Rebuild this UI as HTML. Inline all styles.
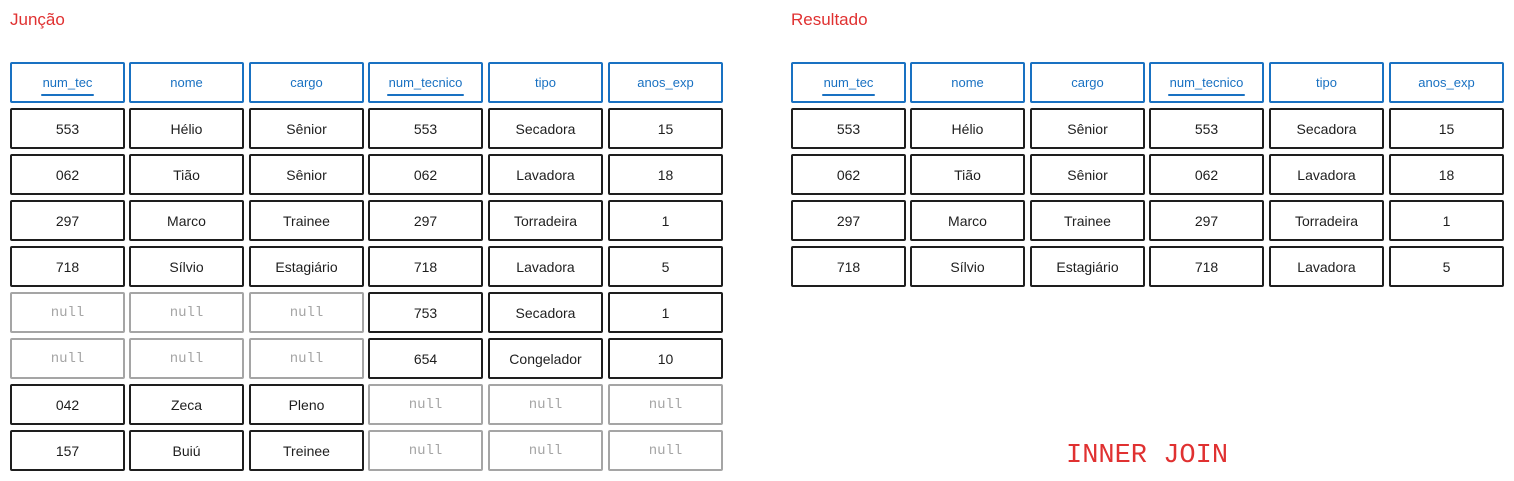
<!DOCTYPE html>
<html><head><meta charset="utf-8"><style>
html,body{margin:0;padding:0;background:#fff;width:1514px;height:481px;overflow:hidden;position:relative;font-family:"Liberation Sans","DejaVu Sans",sans-serif}
.c{position:absolute;box-sizing:border-box;width:115px;height:41px;border:2px solid #1e1e1e;border-radius:2px;display:flex;align-items:center;justify-content:center;font-size:14px;color:#1e1e1e}
.h{border-color:#1971c2;color:#1971c2;font-size:13px}
.n{border-color:#a5a5a5;color:#a5a5a5;font-family:"Liberation Mono",monospace;font-size:14px}
.u{position:relative}
.u::after{content:"";position:absolute;left:-2px;right:-2px;bottom:-6px;height:2px;background:#1971c2;border-radius:1px}
.t{position:absolute;color:#e03131;font-size:17px}
.ij{position:absolute;left:1066px;top:439px;color:#e03131;font-family:"Liberation Mono",monospace;font-size:27px;line-height:34px}
</style></head><body>
<div class="t" style="left:10px;top:10px">Junção</div>
<div class="t" style="left:791px;top:10px">Resultado</div>
<div class="ij">INNER JOIN</div>
<div id="root"></div>
<script>
var hdr=["num_tec","nome","cargo","num_tecnico","tipo","anos_exp"];
var rows=[
["553","Hélio","Sênior","553","Secadora","15"],
["062","Tião","Sênior","062","Lavadora","18"],
["297","Marco","Trainee","297","Torradeira","1"],
["718","Sílvio","Estagiário","718","Lavadora","5"],
[null,null,null,"753","Secadora","1"],
[null,null,null,"654","Congelador","10"],
["042","Zeca","Pleno",null,null,null],
["157","Buiú","Treinee",null,null,null]];
var L=[10,129,249,368,488,608];
var h="";
function table(off,n){
  for(var j=0;j<6;j++){
    var t=hdr[j]; if(j==0||j==3) t='<span class="u">'+t+'</span>';
    h+='<div class="c h" style="left:'+(L[j]+off)+'px;top:62px">'+t+'</div>';
  }
  for(var i=0;i<n;i++)for(var j=0;j<6;j++){
    var v=rows[i][j];
    h+='<div class="c'+(v===null?' n':'')+'" style="left:'+(L[j]+off)+'px;top:'+(108+46*i)+'px">'+(v===null?'null':v)+'</div>';
  }
}
table(0,8);table(781,4);
document.getElementById("root").innerHTML=h;
</script>
</body></html>
